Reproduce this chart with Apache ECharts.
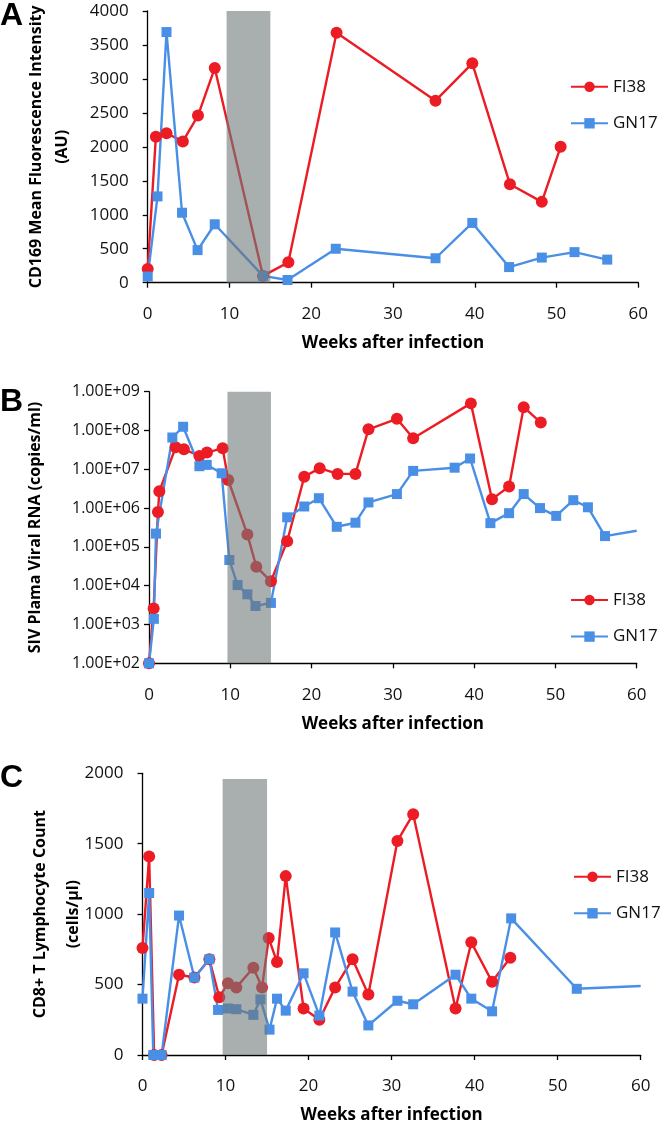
<!DOCTYPE html>
<html><head><meta charset="utf-8">
<script src="https://cdn.jsdelivr.net/npm/echarts@6/dist/echarts.min.js"></script>
<style>html,body{margin:0;padding:0;background:#fff}#c{width:660px;height:1125px}</style>
</head><body><div id="c"></div>
<script>
// ---------- Panel A: CD169 MFI ----------
const weeksA_FI38 = [0, 1, 2.3, 4.3, 6.15, 8.2, 14.1, 17.2, 23.1, 35.2, 39.7, 44.3, 48.2, 50.5];
const cd169_FI38  = [200, 2150, 2200, 2080, 2460, 3160, 100, 300, 3680, 2680, 3230, 1450, 1190, 2000];
const weeksA_GN17 = [0, 1.2, 2.3, 4.2, 6.1, 8.2, 14.1, 17.1, 23.0, 35.2, 39.7, 44.2, 48.2, 52.2, 56.2];
const cd169_GN17  = [90, 1270, 3690, 1030, 480, 860, 100, 40, 500, 360, 880, 230, 370, 450, 340];

// ---------- Panel B: SIV plasma viral RNA ----------
const weeksB_FI38 = [0, 0.57, 1.1, 1.27, 3.28, 4.3, 6.2, 7.13, 9.06, 9.75, 12.1, 13.2, 15.0, 17.0, 19.1, 21.0, 23.2, 25.4, 27.0, 30.5, 32.5, 39.6, 42.2, 44.3, 46.1, 48.2];
const vl_FI38 = [1e2, 2.6e3, 7.9e5, 2.7e6, 3.7e7, 3.3e7, 2.2e7, 2.7e7, 3.5e7, 5.3e6, 2.1e5, 3.1e4, 1.3e4, 1.4e5, 6.4e6, 1.07e7, 7.6e6, 7.6e6, 1.07e8, 2.0e8, 6.3e7, 5.0e8, 1.7e6, 3.6e6, 4.0e8, 1.6e8];
const weeksB_GN17 = [0, 0.6, 0.86, 2.87, 4.2, 6.2, 7.1, 8.94, 9.88, 10.9, 12.1, 13.1, 15.0, 17.0, 19.1, 20.9, 23.1, 25.4, 27.0, 30.5, 32.5, 37.6, 39.5, 42.0, 44.3, 46.1, 48.1, 50.1, 52.2, 54.0, 56.1, 60];
const vl_GN17 = [1e2, 1.4e3, 2.2e5, 6.6e7, 1.25e8, 1.2e7, 1.3e7, 7.9e6, 4.6e4, 1.04e4, 6.0e3, 3.0e3, 3.6e3, 5.8e5, 1.1e6, 1.8e6, 3.3e5, 4.2e5, 1.4e6, 2.3e6, 9.1e6, 1.1e7, 1.9e7, 4.1e5, 7.4e5, 2.3e6, 1.0e6, 6.3e5, 1.6e6, 1.05e6, 1.9e5, 2.6e5];
const yTickLabelsB = ['1.00E+02','1.00E+03','1.00E+04','1.00E+05','1.00E+06','1.00E+07','1.00E+08','1.00E+09'];

// ---------- Panel C: CD8+ T lymphocyte count ----------
const weeksC_FI38 = [0, 0.8, 1.4, 2.3, 4.4, 6.25, 8.05, 9.25, 10.3, 11.3, 13.35, 14.4, 15.2, 16.2, 17.25, 19.4, 21.3, 23.2, 25.3, 27.2, 30.7, 32.6, 37.7, 39.6, 42.1, 44.3];
const cd8_FI38 = [760, 1410, 0, 0, 570, 550, 680, 410, 510, 480, 620, 480, 830, 660, 1270, 330, 250, 480, 680, 430, 1520, 1710, 330, 800, 520, 690];
const weeksC_GN17 = [0, 0.8, 1.3, 2.3, 4.4, 6.25, 8.05, 9.1, 10.3, 11.3, 13.35, 14.2, 15.3, 16.2, 17.25, 19.4, 21.3, 23.2, 25.3, 27.2, 30.7, 32.6, 37.7, 39.6, 42.1, 44.4, 52.3, 60];
const cd8_GN17 = [400, 1150, 0, 0, 990, 550, 680, 320, 330, 325, 285, 395, 180, 400, 315, 580, 280, 870, 450, 210, 385, 360, 570, 400, 310, 970, 470, 490];

// treatment window (weeks) and shading tops per panel
const shadeWeeks = [9.65, 15.0];
const shadeTops = [4050, 1e9, 1960];

const xTicks = [0, 10, 20, 30, 40, 50, 60];

const RED = '#ec1c24', BLUE = '#4a8fe6';
const FONT = '"Open Sans", sans-serif';

function pts(w, v, unmarkLast) {
  return w.map((x, i) => {
    if (unmarkLast && i === w.length - 1) return { value: [x, v[i]], symbol: 'none' };
    return [x, v[i]];
  });
}
function lineSeries(name, data, color, symbol, size, gi) {
  return {
    name, type: 'line', xAxisIndex: gi, yAxisIndex: gi, data,
    symbol, symbolSize: size, showSymbol: true,
    lineStyle: { color, width: 2.4 }, itemStyle: { color },
    animation: false, z: 3
  };
}
function shade(gi, yBottom, yTop) {
  return {
    type: 'line', xAxisIndex: gi, yAxisIndex: gi, data: [], silent: true, z: 10,
    markArea: { silent: true, z: 10, itemStyle: { color: 'rgba(112,120,120,0.6)' },
      data: [[{ xAxis: shadeWeeks[0], yAxis: yBottom }, { xAxis: shadeWeeks[1], yAxis: yTop }]] }
  };
}
const axisCommon = {
  axisLine: { show: true, lineStyle: { color: '#000', width: 1.3 } },
  axisTick: { show: true, inside: false, length: 5, lineStyle: { color: '#000', width: 1.3 } },
  splitLine: { show: false },
};
function xAxis(gi) {
  return Object.assign({}, axisCommon, {
    type: 'value', gridIndex: gi, min: xTicks[0], max: xTicks[xTicks.length - 1], interval: 10,
    name: 'Weeks after infection', nameLocation: 'middle', nameGap: 52,
    nameTextStyle: { fontFamily: FONT, fontWeight: 'bold', fontSize: 17, color: '#000' },
    axisLabel: { margin: 23, fontFamily: FONT, fontSize: 17, color: '#111' }
  });
}
function legend(left, top) {
  return {
    left, top, orient: 'vertical', itemWidth: 37, itemHeight: 13, itemGap: 16.6,
    data: ['FI38', 'GN17'],
    textStyle: { fontFamily: FONT, fontSize: 17, color: '#111', lineHeight: 20 }
  };
}
const plain = v => String(v);

const option = {
  animation: false,
  backgroundColor: '#fff',
  grid: [
    { left: 147.7, top: 11, width: 490.6, height: 271.7 },
    { left: 149, top: 391.7, width: 487.7, height: 271.6 },
    { left: 142.5, top: 773.3, width: 498.2, height: 286.7 }
  ],
  xAxis: [xAxis(0), xAxis(1), xAxis(2)],
  yAxis: [
    Object.assign({}, axisCommon, {
      type: 'value', gridIndex: 0, min: 0, max: 4000, interval: 500,
      name: 'CD169 Mean Fluorescence Intensity\n(AU)', nameLocation: 'middle', nameGap: 72,
      nameMoveOverlap: false,
      nameTextStyle: { fontFamily: FONT, fontWeight: 'bold', fontSize: 16, color: '#000', lineHeight: 26 },
      axisLabel: { margin: 19, fontFamily: FONT, fontSize: 17, color: '#111', formatter: plain }
    }),
    Object.assign({}, axisCommon, {
      type: 'log', logBase: 10, gridIndex: 1, min: 1e2, max: 1e9, splitNumber: 7,
      name: 'SIV Plama Viral RNA (copies/ml)', nameLocation: 'middle', nameGap: 103,
      nameMoveOverlap: false,
      nameTextStyle: { fontFamily: FONT, fontWeight: 'bold', fontSize: 16, color: '#000', lineHeight: 22 },
      axisLabel: { margin: 9, fontFamily: FONT, fontSize: 16, color: '#111',
        formatter: v => yTickLabelsB[Math.round(Math.log10(v)) - 2] }
    }),
    Object.assign({}, axisCommon, {
      type: 'value', gridIndex: 2, min: 0, max: 2000, interval: 500,
      name: 'CD8+ T Lymphocyte Count\n(cells/µl)', nameLocation: 'middle', nameGap: 53,
      nameMoveOverlap: false,
      nameTextStyle: { fontFamily: FONT, fontWeight: 'bold', fontSize: 16, color: '#000', lineHeight: 33 },
      axisLabel: { margin: 19, fontFamily: FONT, fontSize: 17, color: '#111', formatter: plain }
    })
  ],
  legend: [legend(565, 71.7), legend(565, 585), legend(568, 861.7)],
  series: [
    lineSeries('FI38', pts(weeksA_FI38, cd169_FI38), RED, 'circle', 12, 0),
    lineSeries('GN17', pts(weeksA_GN17, cd169_GN17), BLUE, 'rect', 10, 0),
    shade(0, 0, shadeTops[0]),
    lineSeries('FI38', pts(weeksB_FI38, vl_FI38), RED, 'circle', 12, 1),
    lineSeries('GN17', pts(weeksB_GN17, vl_GN17, true), BLUE, 'rect', 10, 1),
    shade(1, 1e2, shadeTops[1]),
    lineSeries('FI38', pts(weeksC_FI38, cd8_FI38), RED, 'circle', 12, 2),
    lineSeries('GN17', pts(weeksC_GN17, cd8_GN17, true), BLUE, 'rect', 10, 2),
    shade(2, 0, shadeTops[2])
  ],
  graphic: [
    { type: 'text', left: 0, top: 0, style: { text: 'A', font: 'bold 32px "Liberation Sans", Arial, sans-serif', fill: '#000' } },
    { type: 'text', left: 0, top: 386, style: { text: 'B', font: 'bold 32px "Liberation Sans", Arial, sans-serif', fill: '#000' } },
    { type: 'text', left: 0, top: 762, style: { text: 'C', font: 'bold 32px "Liberation Sans", Arial, sans-serif', fill: '#000' } }
  ]
};
const chart = echarts.init(document.getElementById('c'), null, { renderer: 'canvas' });
chart.setOption(option);
</script>
</body></html>
